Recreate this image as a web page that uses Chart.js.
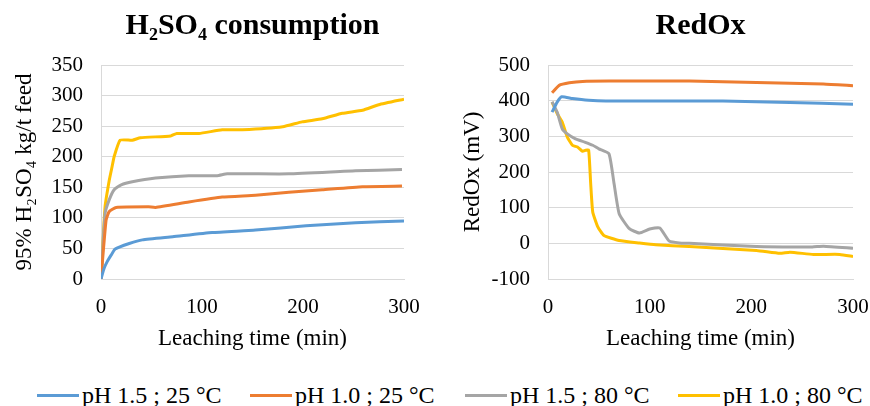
<!DOCTYPE html>
<html>
<head>
<meta charset="utf-8">
<script src="https://cdn.jsdelivr.net/npm/chart.js@4.4.0/dist/chart.umd.min.js"></script>
<style>
    body { margin: 0; background: #ffffff; }
    .page { position: relative; width: 870px; height: 406px; font-family: "Liberation Serif", "Times New Roman", serif; }
    #acidChart { position: absolute; left: 0; top: 0; }
    #redoxChart { position: absolute; left: 430px; top: 0; }
    .legend { position: absolute; top: 381px; left: 0; width: 870px; height: 28px; }
    .legend-item { position: absolute; top: 0; display: flex; align-items: center; font-size: 24px; line-height: 28px; color: #000; white-space: nowrap; }
    .legend-line { width: 42px; height: 3px; margin-right: 3px; }
</style>
</head>
<body>
<div class="page">
    <canvas id="acidChart" width="430" height="357"></canvas>
    <canvas id="redoxChart" width="440" height="357"></canvas>
    <div class="legend" id="legend"></div>
</div>
<script>
// series labels and colours
const seriesLabels = ['pH 1.5 ; 25 °C', 'pH 1.0 ; 25 °C', 'pH 1.5 ; 80 °C', 'pH 1.0 ; 80 °C'];
const seriesColors = ['#5B9BD5', '#ED7D31', '#A5A5A5', '#FFC000'];

// H2SO4 consumption (kg/t feed) vs leaching time (min)
const acidTime1 = [0, 3, 6, 10, 14, 28, 41, 71, 110, 153, 203, 252, 300];
const acid1 = [0, 17, 28, 39, 49, 58, 64, 69, 76, 80, 87, 92, 95];
const acidTime2 = [0, 5, 8, 15, 47, 54, 87, 120, 153, 186, 219, 259, 298];
const acid2 = [0, 96, 110, 117, 118, 117, 126, 134, 137, 142, 146, 151, 152];
const acidTime3 = [0, 4, 8, 13, 20, 31, 54, 87, 115, 125, 186, 252, 298];
const acid3 = [0, 107, 129, 146, 154, 159, 165, 169, 169, 172, 172, 177, 179];
const acidTime4 = [0, 4, 8, 11, 13, 19, 31, 39, 69, 75, 97, 120, 140, 180, 199, 219, 239, 259, 275, 300];
const acid4 = [0, 118, 160, 184, 200, 227, 227, 231, 234, 238, 238, 244, 244, 249, 257, 262, 271, 276, 285, 294];

// RedOx (mV) vs leaching time (min)
const redoxTime1 = [4, 9, 13.5, 24, 40, 57, 172, 238, 300];
const redox1 = [368, 396, 411, 406, 401, 399, 399, 395, 390];
const redoxTime2 = [4, 11, 21, 34, 60, 139, 205, 271, 300];
const redox2 = [422, 443, 450, 454, 455, 455, 451, 447, 442];
const redoxTime3 = [4, 9, 14, 19, 27, 36, 44, 50, 60, 65, 70, 80, 90, 100, 110, 119, 129, 139, 205, 260, 271, 300];
const redox3 = [397, 368, 321, 307, 293, 284, 275, 265, 251, 167, 83, 41, 29, 40, 43, 7, 1, 0, -9, -10, -8, -14];
const redoxTime4 = [4, 9, 14, 19, 24, 29, 34, 37, 40, 42, 44, 49, 55, 70, 90, 106, 139, 205, 228, 238, 261, 287, 300];
const redox4 = [396, 364, 340, 298, 275, 270, 258, 261, 261, 167, 88, 46, 22, 8, 1, -4, -9, -20, -28, -25, -31, -31, -37];

const axisTicks = { min: 0, max: 300, step: 100 };
const acidTicks = { min: 0, max: 350, step: 50 };
const redoxTicks = { min: -100, max: 500, step: 100 };

const fontFamily = '"Liberation Serif", "Times New Roman", serif';
const gridColor = '#d9d9d9';

function toPoints(xs, ys) {
    return xs.map((x, i) => ({ x: x, y: ys[i] }));
}

function makeDatasets(pairs) {
    return pairs.map((p, i) => ({
        label: seriesLabels[i],
        data: toPoints(p[0], p[1]),
        borderColor: seriesColors[i],
        backgroundColor: seriesColors[i],
        borderWidth: 3,
        pointRadius: 0,
        tension: 0.15,
        fill: false
    }));
}

function drawChart(canvasId, title, yTitle, yTicks, datasets, yWidth, yTitlePad, rightPad) {
    const ctx = document.getElementById(canvasId).getContext('2d');
    return new Chart(ctx, {
        type: 'line',
        data: { datasets: datasets },
        options: {
            responsive: false,
            animation: false,
            layout: { padding: { left: 0, right: rightPad, top: 0, bottom: 0 } },
            plugins: {
                legend: { display: false },
                tooltip: { enabled: false },
                title: {
                    display: true,
                    fullSize: false, // centre over the plot area
                    text: title,
                    color: '#000000',
                    font: { family: fontFamily, size: 30, weight: 'bold' },
                    padding: { top: 8, bottom: 21 }
                }
            },
            scales: {
                x: {
                    type: 'linear',
                    min: axisTicks.min,
                    max: axisTicks.max,
                    ticks: { stepSize: axisTicks.step, color: '#000000', padding: 0, font: { family: fontFamily, size: 21 } },
                    // invisible tick marks push the labels down without widening the right padding
                    grid: { color: 'rgba(0,0,0,0)', drawOnChartArea: false, drawTicks: true, tickLength: 16 },
                    border: { display: true, color: gridColor, width: 1 },
                    title: { display: true, text: 'Leaching time (min)', color: '#000000', font: { family: fontFamily, size: 23 }, padding: { top: 0, bottom: 4 } },
                    afterFit: (scale) => { scale.height = 78; }
                },
                y: {
                    min: yTicks.min,
                    max: yTicks.max,
                    ticks: { stepSize: yTicks.step, color: '#000000', padding: 18, font: { family: fontFamily, size: 21 } },
                    grid: { color: gridColor, lineWidth: 1, drawTicks: false },
                    border: { display: true, color: gridColor, width: 1 },
                    title: { display: true, text: yTitle, color: '#000000', font: { family: fontFamily, size: 23 }, padding: { top: yTitlePad, bottom: 0 } },
                    afterFit: (scale) => { scale.width = yWidth; }
                }
            }
        }
    });
}

drawChart('acidChart', 'H₂SO₄ consumption', '95% H₂SO₄ kg/t feed', acidTicks,
    makeDatasets([[acidTime1, acid1], [acidTime2, acid2], [acidTime3, acid3], [acidTime4, acid4]]),
    101, 11, 26);

drawChart('redoxChart', 'RedOx', 'RedOx (mV)', redoxTicks,
    makeDatasets([[redoxTime1, redox1], [redoxTime2, redox2], [redoxTime3, redox3], [redoxTime4, redox4]]),
    118, 29, 17);

// legend below both charts
const legendLeft = [37, 250, 465, 678];
const legend = document.getElementById('legend');
seriesLabels.forEach((label, i) => {
    const item = document.createElement('div');
    item.className = 'legend-item';
    item.style.left = legendLeft[i] + 'px';
    const line = document.createElement('span');
    line.className = 'legend-line';
    line.style.background = seriesColors[i];
    const text = document.createElement('span');
    text.textContent = label;
    item.appendChild(line);
    item.appendChild(text);
    legend.appendChild(item);
});
</script>
</body>
</html>
